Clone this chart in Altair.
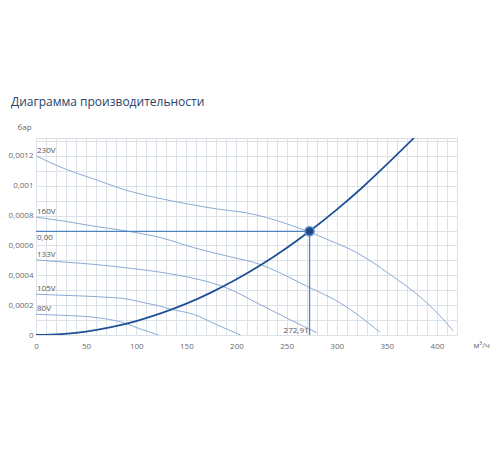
import altair as alt
import pandas as pd

title_text = "Диаграмма производительности"
y_unit = "бар"
x_unit = "м³/ч"

# Fan curves
fan_names = ["230V", "160V", "133V", "105V", "80V"]
fan_230_x = [0, 30, 60, 90, 120, 150, 180, 210, 230, 250, 273, 290, 320, 353, 386, 400, 416]
fan_230_y = [0.0012, 0.00111, 0.00104, 0.00097, 0.00092, 0.00088, 0.000845, 0.000818, 0.000787,
             0.000745, 0.00069, 0.000642, 0.000552, 0.000407, 0.000239, 0.00015, 0.00003]
fan_160_x = [0, 27, 60, 90, 123, 157, 190, 223, 243, 263, 273, 303, 343]
fan_160_y = [0.00079, 0.000764, 0.000727, 0.000697, 0.000655, 0.000586, 0.00053, 0.000474,
             0.000418, 0.000351, 0.000318, 0.000217, 0.00002]
fan_133_x = [0, 30, 60, 90, 120, 150, 175, 190, 223, 256, 280]
fan_133_y = [0.000503, 0.000488, 0.000472, 0.00045, 0.000425, 0.00039, 0.00035, 0.000316,
             0.000206, 0.000094, 0.000016]
fan_105_x = [0, 27, 60, 93, 110, 123, 133, 157, 180, 204]
fan_105_y = [0.000273, 0.000266, 0.000257, 0.000239, 0.000213, 0.000195, 0.000175, 0.000139,
             0.00007, 0.0]
fan_80_x = [0, 27, 60, 87, 103, 122]
fan_80_y = [0.000139, 0.000132, 0.000117, 0.000083, 0.000043, 0.0]

# System curve
sys_x = [0, 25, 50, 75, 100, 125, 150, 175, 200, 225, 250, 272.91, 300, 325, 350, 377]
sys_y = [0, 0.0000058, 0.0000233, 0.0000525, 0.0000933, 0.000146, 0.00021, 0.000286, 0.000373,
         0.000472, 0.000583, 0.000695, 0.00084, 0.000985, 0.001143, 0.00132]

# Operating point
op_x = 272.91
op_y = 0.000695
op_x_label = "272,91"
op_y_label = "0,00"

x_grid_values = list(range(0, 421, 10))
y_grid_values = [0, 0.0001, 0.0002, 0.0003, 0.0004, 0.0005, 0.0006, 0.0007, 0.0008, 0.0009,
                 0.001, 0.0011, 0.0012, 0.0013]

fan_xs = [fan_230_x, fan_160_x, fan_133_x, fan_105_x, fan_80_x]
fan_ys = [fan_230_y, fan_160_y, fan_133_y, fan_105_y, fan_80_y]
rows = []
for name, xs_, ys_ in zip(fan_names, fan_xs, fan_ys):
    for i, (a, b) in enumerate(zip(xs_, ys_)):
        rows.append({"name": name, "x": a, "y": b, "i": i})
fan_df = pd.DataFrame(rows)
lab_df = pd.DataFrame({"name": fan_names, "x": [v[0] for v in fan_xs], "y": [v[0] for v in fan_ys]})
sys_df = pd.DataFrame({"x": sys_x, "y": sys_y, "i": list(range(len(sys_x)))})
op_df = pd.DataFrame({"x": [op_x], "y": [op_y], "x0": [0], "y0": [0],
                      "xl": [op_x_label], "yl": [op_y_label]})

FONT = "Open Sans"
TXT = "#6b6b6b"
xs = alt.Scale(domain=[0, 420], nice=False, zero=False)
ys = alt.Scale(domain=[0, 0.00132], nice=False, zero=False)

x_axis = alt.Axis(values=x_grid_values, labelExpr="datum.value % 50 === 0 ? datum.label : ''",
                  ticks=False, domain=False, gridColor="#dde2e8", gridWidth=1,
                  labelColor=TXT, labelFontSize=8, labelFont=FONT, labelPadding=7,
                  labelOverlap=False, labelFlush=False,
                  title=x_unit, titleFont=FONT, titleFontSize=8, titleFontWeight="normal",
                  titleColor=TXT, titleX=437, titleY=10, titleAlign="left",
                  titleBaseline="middle")
y_axis = alt.Axis(values=y_grid_values,
                  labelExpr="round(datum.value*10000) % 2 === 0 && datum.value < 0.00125 ? replace(format(datum.value, '~r'), '.', ',') : ''",
                  ticks=False, domain=False, gridColor="#dde2e8", gridWidth=1,
                  labelColor=TXT, labelFontSize=8, labelFont=FONT, labelPadding=3,
                  labelOverlap=False, labelFlush=False,
                  title=y_unit, titleFont=FONT, titleFontSize=8, titleFontWeight="normal",
                  titleColor=TXT, titleAngle=0, titleX=-12, titleY=-11,
                  titleAlign="center", titleBaseline="middle")


def X(field):
    return alt.X(field, scale=xs, axis=x_axis)


def Y(field):
    return alt.Y(field, scale=ys, axis=y_axis)


fans = alt.Chart(fan_df).mark_line(color="#8aabd3", strokeWidth=1, interpolate="monotone").encode(
    x=X("x:Q"), y=Y("y:Q"), detail="name:N", order="i:Q")

fan_labels = alt.Chart(lab_df).mark_text(align="left", baseline="bottom", dx=1, dy=-1,
                                          font=FONT, fontSize=8, color="#555555").encode(
    x=X("x:Q"), y=Y("y:Q"), text="name:N")

hline = alt.Chart(op_df).mark_rule(color="#4f82bf", strokeWidth=1.3).encode(
    x=X("x0:Q"), x2="x:Q", y=Y("y:Q"))
vline = alt.Chart(op_df).mark_rule(color="#4f82bf", strokeWidth=1.3).encode(
    x=X("x:Q"), y=Y("y0:Q"), y2="y:Q")

sysline = alt.Chart(sys_df).mark_line(color="#1f5096", strokeWidth=1.8, interpolate="monotone",
                                      clip=True).encode(
    x=X("x:Q"), y=Y("y:Q"), order="i:Q")

point = alt.Chart(op_df).mark_point(shape="circle", filled=True, size=80, fill="#1d4a86",
                                    stroke="#5d8cc6", strokeWidth=1.6, opacity=1).encode(
    x=X("x:Q"), y=Y("y:Q"))

ylab = alt.Chart(op_df).mark_text(align="left", baseline="top", dx=1, dy=3,
                                  font=FONT, fontSize=8, color="#555555").encode(
    x=X("x0:Q"), y=Y("y:Q"), text="yl:N")
xlab = alt.Chart(op_df).mark_text(align="right", baseline="bottom", dx=-1, dy=0,
                                  font=FONT, fontSize=8, color="#555555").encode(
    x=X("x:Q"), y=Y("y0:Q"), text="xl:N")

chart = alt.layer(fans, fan_labels, hline, vline, sysline, point, ylab, xlab).properties(
    width=421, height=197,
    title=alt.TitleParams(title_text, anchor="start", frame="group", font=FONT, fontSize=12,
                          fontWeight="normal", color="#2a4468", dx=-25, dy=0, offset=9,
                          baseline="middle"),
    autosize=alt.AutoSizeParams(type="none"),
    padding={"left": 28, "top": 130, "right": 35, "bottom": 30},
).configure_view(fill="#f3f5f8", stroke="#d6dbe1", strokeWidth=1).configure(background="white")

chart.save("out.html", embed_options={"renderer": "svg", "actions": False})
